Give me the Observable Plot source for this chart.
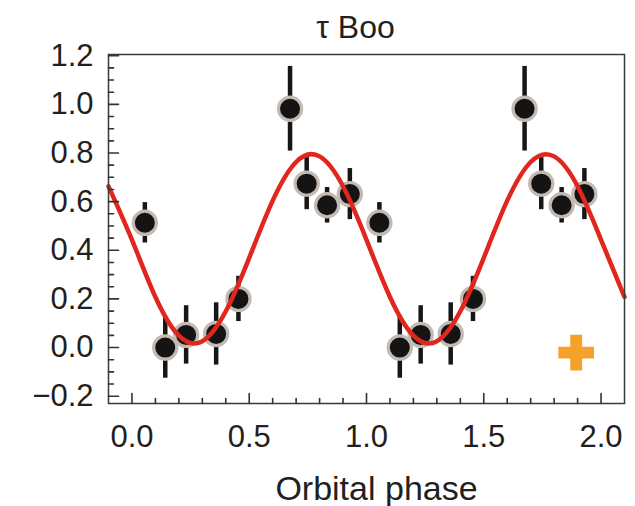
<!DOCTYPE html>
<html>
<head>
<meta charset="utf-8">
<script src="https://cdn.jsdelivr.net/npm/d3@7"></script>
<script src="https://cdn.jsdelivr.net/npm/@observablehq/plot@0.6"></script>
<style>
  body { margin: 0; background: #ffffff; }
  #chart svg { display: block; }
</style>
</head>
<body>
<div id="chart"></div>
<script>
// ---- data ----
const title = "τ Boo";
const xLabel = "Orbital phase";

// observed points, one orbital cycle (repeated at phase + 1)
const phase = [0.055, 0.142, 0.231, 0.359, 0.454, 0.674, 0.745, 0.832, 0.929];
const value = [0.513, 0.000, 0.052, 0.056, 0.200, 0.982, 0.674, 0.585, 0.631];
const error = [0.083, 0.126, 0.120, 0.128, 0.093, 0.174, 0.107, 0.073, 0.105];
const cycles = [0, 1];

// red model curve, read every 0.1 in phase
const modelPhase = [-0.1, 0.0, 0.1, 0.2, 0.3, 0.4, 0.5, 0.6, 0.7, 0.8, 0.9, 1.0,
                    1.1, 1.2, 1.3, 1.4, 1.5, 1.6, 1.7, 1.8, 1.9, 2.0, 2.1];
const modelValue = [0.663, 0.443, 0.208, 0.049, 0.026, 0.149, 0.369, 0.604, 0.763, 0.786, 0.663, 0.443,
                    0.208, 0.049, 0.026, 0.149, 0.369, 0.604, 0.763, 0.786, 0.663, 0.443, 0.208];

// orange marker
const markerPhase = [1.894];
const markerValue = [-0.021];

// ticks
const xTicks = [0, 0.5, 1.0, 1.5, 2.0];
const xMinorTicks = [0.1, 0.2, 0.3, 0.4, 0.6, 0.7, 0.8, 0.9, 1.1, 1.2, 1.3, 1.4, 1.6, 1.7, 1.8, 1.9];
const yTicks = [-0.2, 0.0, 0.2, 0.4, 0.6, 0.8, 1.0, 1.2];
const yMinorTicks = [-0.15, -0.1, -0.05, 0.05, 0.1, 0.15, 0.25, 0.3, 0.35, 0.45, 0.5, 0.55,
                     0.65, 0.7, 0.75, 0.85, 0.9, 0.95, 1.05, 1.1, 1.15];

// ---- build ----
const points = cycles.flatMap(c => phase.map((p, i) => ({x: p + c, y: value[i], e: error[i]})));
const model = modelPhase.map((p, i) => ({x: p, y: modelValue[i]}));
const marker = markerPhase.map((p, i) => ({x: p, y: markerValue[i]}));
const fmt = d => (d < 0 ? "\u2212" : "") + Math.abs(d).toFixed(1);

const lineShape = {
  draw(context, l) {
    context.moveTo(0, 0);
    context.lineTo(0, -l);
  }
};

const textColor = "#231f20";
const font = "'Liberation Sans', Arial, Helvetica, sans-serif";

const chart = Plot.plot({
  width: 635,
  height: 506,
  marginLeft: 108,
  marginRight: 11,
  marginTop: 54,
  marginBottom: 103,
  style: {fontFamily: font, background: "#ffffff", color: textColor},
  x: {domain: [-0.1, 2.1], axis: null},
  y: {domain: [-0.23, 1.205], axis: null},
  marks: [
    // error bars
    Plot.ruleX(points, {x: "x", y1: d => d.y - d.e, y2: d => d.y + d.e,
                        stroke: "#161616", strokeWidth: 4.5, strokeLinecap: "butt"}),
    // data points with grey halo
    Plot.dot(points, {x: "x", y: "y", r: 11.6, fill: "#141414",
                      stroke: "#c3bbb3", strokeWidth: 3.2}),
    // model curve
    Plot.line(model, {x: "x", y: "y", curve: "natural", stroke: "#e1261e", strokeWidth: 4.5}),
    // orange cross
    Plot.dot(marker, {x: "x", y: "y", symbol: "cross", r: 15, fill: "#f5a12a", stroke: null}),
    // frame
    Plot.frame({stroke: "#3a3a3a", strokeWidth: 1.5}),
    // inward ticks
    Plot.vector(xTicks, {x: d => d, frameAnchor: "bottom", length: 10, rotate: 0, anchor: "start",
                         shape: lineShape, stroke: "#333", strokeWidth: 1.6}),
    Plot.vector(xMinorTicks, {x: d => d, frameAnchor: "bottom", length: 5, rotate: 0, anchor: "start",
                              shape: lineShape, stroke: "#333", strokeWidth: 1.6}),
    Plot.vector(yTicks, {y: d => d, frameAnchor: "left", length: 10, rotate: 90, anchor: "start",
                         shape: lineShape, stroke: "#333", strokeWidth: 1.6}),
    Plot.vector(yMinorTicks, {y: d => d, frameAnchor: "left", length: 5, rotate: 90, anchor: "start",
                              shape: lineShape, stroke: "#333", strokeWidth: 1.6}),
    // tick labels
    Plot.text(xTicks, {x: d => d, frameAnchor: "bottom", lineAnchor: "bottom", dy: 43,
                       text: fmt, fontSize: 31, fill: textColor}),
    Plot.text(yTicks, {y: d => d, frameAnchor: "left", textAnchor: "end", lineAnchor: "middle",
                       dx: -15, text: fmt, fontSize: 31, fill: textColor}),
    // title and axis label
    Plot.text([title], {frameAnchor: "top", lineAnchor: "bottom", dy: -17, dx: -11,
                        text: d => d, fontSize: 32, fill: textColor}),
    Plot.text([xLabel], {frameAnchor: "bottom", lineAnchor: "bottom", dy: 96, dx: 10,
                         text: d => d, fontSize: 34, fill: textColor})
  ]
});

document.getElementById("chart").appendChild(chart);
</script>
</body>
</html>
